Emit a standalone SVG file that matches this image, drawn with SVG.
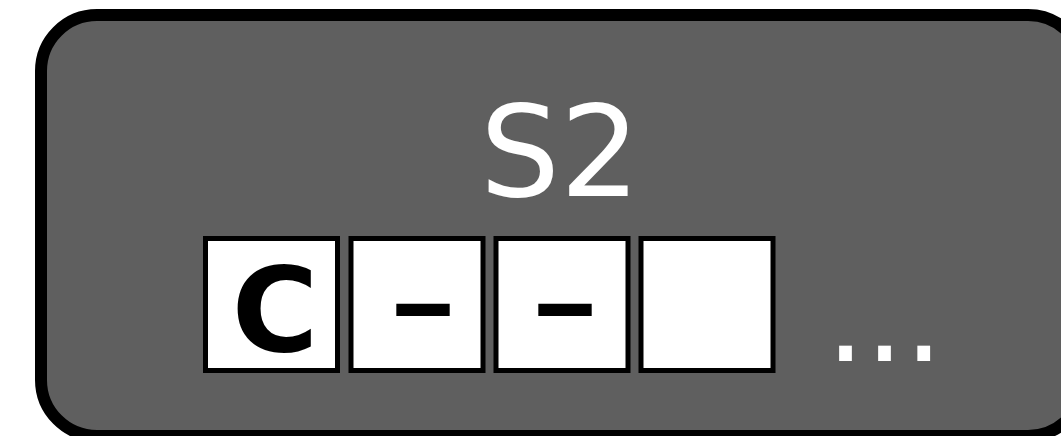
<svg xmlns="http://www.w3.org/2000/svg" width="1061" height="436" viewBox="0 0 1061 436">
<style>
.cell{fill:#ffffff;stroke:#000000;stroke-width:5}
.glyph{font-family:"DejaVu Sans",sans-serif;font-weight:bold;fill:#000000;text-anchor:middle}
.dash{font-family:"DejaVu Sans",sans-serif;font-weight:bold;fill:#000000}
</style>
<rect width="1061" height="436" fill="#ffffff"/>
<g id="s2">
<rect x="41" y="15" width="1043" height="421" rx="56" ry="56" fill="#5f5f5f" stroke="#000000" stroke-width="12"/>
<text x="560" y="196" font-family="DejaVu Sans, sans-serif" font-size="126" fill="#ffffff" text-anchor="middle">S2</text>
</g>
<g id="cell1"><rect class="cell" x="205.5" y="238.5" width="132" height="132"/><text class="glyph" x="275" y="351" font-size="118">C</text></g>
<g id="cell2"><rect class="cell" x="351" y="238.5" width="132" height="132"/><text class="dash" x="389" y="336" font-size="96" textLength="68" lengthAdjust="spacingAndGlyphs">–</text></g>
<g id="cell3"><rect class="cell" x="496" y="238.5" width="132" height="132"/><text class="dash" x="531" y="336" font-size="96" textLength="68" lengthAdjust="spacingAndGlyphs">–</text></g>
<g id="cell4"><rect class="cell" x="641" y="238.5" width="132" height="132"/></g>
<g id="ellipsis"><text x="826" y="361" font-family="DejaVu Sans, sans-serif" font-size="123" fill="#ffffff">...</text></g>
<g id="connectors"/>
</svg>
